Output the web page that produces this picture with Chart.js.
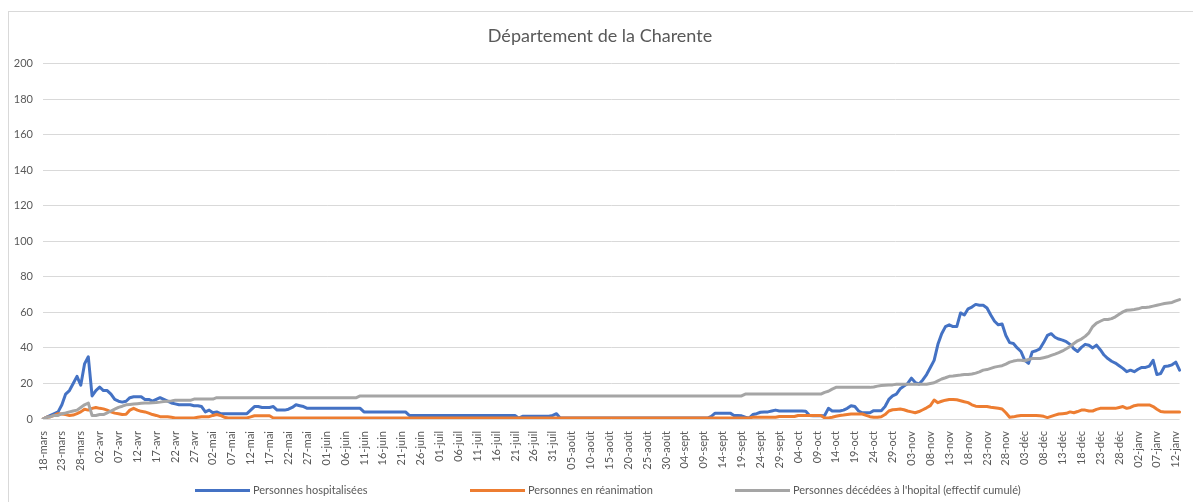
<!DOCTYPE html>
<html>
<head>
<meta charset="utf-8">
<script src="https://cdn.jsdelivr.net/npm/chart.js@4.4.0/dist/chart.umd.min.js"></script>
<style>
  body { margin: 0; width: 1193px; height: 502px; overflow: hidden; background: #fff; font-family: Lato, sans-serif; }
  #frame { position: absolute; left: 8px; top: 11px; width: 1300px; height: 600px; border: 1px solid #d9d9d9; }
  #chart { position: absolute; left: 0; top: 0; }
  .leg { position: absolute; top: 483px; font-size: 11px; color: #595959; white-space: nowrap; line-height: 14px; }
  .leg i { display: inline-block; width: 55px; height: 3px; vertical-align: middle; margin-right: 3px; margin-top: -2px; }
</style>
</head>
<body>
<div id="frame"></div>
<canvas id="chart" width="1193" height="502"></canvas>
<div class="leg" style="left:195px"><i style="background:#4472C4"></i>Personnes hospitalisées</div>
<div class="leg" style="left:470px"><i style="background:#ED7D31"></i>Personnes en réanimation</div>
<div class="leg" style="left:735px"><i style="background:#A5A5A5"></i>Personnes décédées à l'hopital (effectif cumulé)</div>
<script>
// one value per day, from 18-mars (2020) to 13-janv (2021)
const startDate = Date.UTC(2020, 2, 18);
const nbDays = 302;
const moisFr = ["janv", "févr", "mars", "avr", "mai", "juin", "juil", "août", "sept", "oct", "nov", "déc"];

const hospitalisees = [
  // mars
  0, 1, 2, 3, 4, 8, 14, 16, 20, 24, 19, 31, 35, 13,
  // avr
  16, 18, 16, 16, 14, 11, 10, 9.5, 10, 12, 12.5, 12.5, 12.5, 11, 11,
  10, 11, 12, 11, 10, 9, 8.5, 8, 8, 8, 8, 7.5, 7.5, 7, 4,
  // mai
  5, 3.5, 4, 3, 3, 3, 3, 3, 3, 3, 3, 5, 7, 7, 6.5, 6.5,
  6.5, 7, 5, 5, 5, 5.5, 6.5, 8, 7.5, 7, 6, 6, 6, 6, 6,
  // juin
  6, 6, 6, 6, 6, 6, 6, 6, 6, 6, 4, 4, 4, 4, 4,
  4, 4, 4, 4, 4, 4, 4, 2, 2, 2, 2, 2, 2, 2, 2,
  // juil
  2, 2, 2, 2, 2, 2, 2, 2, 2, 2, 2, 2, 2, 2, 2, 2,
  2, 2, 2, 2, 2, 0.5, 1.5, 1.5, 1.5, 1.5, 1.5, 1.5, 1.5, 1.5, 2,
  // août
  3, 0.5, 0.5, 0.5, 0.5, 0.5, 0.5, 0.5, 0.5, 0.5, 0.5, 0.5, 0.5, 0.5, 0.5, 0.5,
  0.5, 0.5, 0.5, 0.5, 0.5, 0.5, 0.5, 0.5, 0.5, 0.5, 0.5, 0.5, 0.5, 0.5, 0.5,
  // sept
  0.5, 0.5, 0.5, 0.5, 0.5, 0.5, 0.5, 0.5, 0.5, 0.5, 1.5, 3.3, 3.3, 3.3, 3.3,
  3.3, 2, 2, 1.8, 1, 0.5, 2.5, 3, 3.8, 4, 4, 4.5, 5, 4.5, 4.5,
  // oct
  4.5, 4.5, 4.5, 4.5, 4.5, 4.4, 2, 1.8, 1.8, 1.8, 2, 6, 4.5, 4.5, 4.5, 5,
  6, 7.5, 7, 4.5, 3.5, 3.5, 3.5, 4.7, 4.7, 4.7, 7, 11, 13, 14, 17,
  // nov
  18.5, 20, 23, 20.5, 19.7, 22, 25, 29, 33, 42, 48, 52, 53, 52, 52,
  59.7, 58.5, 62, 63, 64.5, 64, 64, 62.5, 58.5, 55, 53, 53.5, 47, 43, 42.5,
  // déc
  40, 38, 33, 31.3, 37.8, 38.4, 39.5, 43, 47, 48, 46, 45, 44.4, 43.5, 42, 39.5,
  38, 40.3, 42, 41.5, 40, 41.6, 39, 36, 34, 32.5, 31.5, 30, 28.5, 26.6, 27.5,
  // janv
  26.6, 28, 29, 29, 29.8, 33, 25, 25.6, 29.5, 29.8, 30.5, 32, 27.5
];

const reanimation = [
  // mars
  0, 1, 1.3, 2, 3, 2.8, 2.5, 2, 2.2, 3, 4, 5.5, 5, 6,
  // avr
  6.5, 6, 5.7, 5, 4, 3.3, 3, 2.5, 2.7, 5, 6, 5, 4.3, 4, 3.3,
  2.5, 2, 1.3, 1.3, 1.3, 1, 0.6, 0.6, 0.6, 0.6, 0.6, 0.6, 1, 1.3, 1.3,
  // mai
  1.3, 2, 2.5, 2, 1, 0.6, 0.6, 0.6, 0.6, 0.6, 0.6, 1.2, 1.8, 1.8, 1.8, 1.8,
  1.8, 0.6, 0.5, 0.5, 0.5, 0.5, 0.5, 0.5, 0.5, 0.5, 0.5, 0.5, 0.5, 0.5, 0.5,
  // juin
  0.5, 0.5, 0.5, 0.5, 0.5, 0.5, 0.5, 0.5, 0.5, 0.5, 0.5, 0.5, 0.5, 0.5, 0.5,
  0.5, 0.5, 0.5, 0.5, 0.5, 0.5, 0.5, 0.5, 0.5, 0.5, 0.5, 0.5, 0.5, 0.5, 0.5,
  // juil
  0.5, 0.5, 0.5, 0.5, 0.5, 0.5, 0.5, 0.5, 0.5, 0.5, 0.5, 0.5, 0.5, 0.5, 0.5, 0.5,
  0.5, 0.5, 0.5, 0.5, 0.5, 0.5, 0.5, 0.5, 0.5, 0.5, 0.5, 0.5, 0.5, 0.5, 0.5,
  // août
  0.5, 0.5, 0.5, 0.5, 0.5, 0.5, 0.5, 0.5, 0.5, 0.5, 0.5, 0.5, 0.5, 0.5, 0.5, 0.5,
  0.5, 0.5, 0.5, 0.5, 0.5, 0.5, 0.5, 0.5, 0.5, 0.5, 0.5, 0.5, 0.5, 0.5, 0.5,
  // sept
  0.5, 0.5, 0.5, 0.5, 0.5, 0.5, 0.5, 0.5, 0.5, 0.5, 0.5, 0.5, 0.5, 0.5, 0.5,
  0.5, 0.5, 0.5, 0.5, 0.5, 0.6, 1, 1, 1, 1, 1, 1, 1, 1.4, 1.4,
  // oct
  1.4, 1.4, 1.4, 2, 2, 2, 2, 2, 2, 2, 0.6, 0.6, 1, 1.5, 2, 2.2,
  2.5, 2.8, 2.8, 2.8, 2.8, 2, 1.3, 1, 1, 1.3, 2.5, 4.5, 5.2, 5.4, 5.6,
  // nov
  5.2, 4.5, 4, 3.5, 4.2, 5.2, 6.3, 7.5, 10.7, 9.2, 10, 10.6, 11, 11, 10.8,
  10.3, 9.7, 9.2, 8, 7.2, 7, 7, 7, 6.6, 6.3, 6, 5.6, 3.5, 1, 1.2,
  // déc
  1.7, 2, 2, 2, 2, 2, 1.8, 1.5, 0.8, 1.5, 2.2, 2.8, 3, 3.2, 4, 3.5,
  4.2, 5, 5, 4.5, 4.5, 5.4, 6, 6, 6, 6, 6, 6.5, 7, 6, 6.5,
  // janv
  7.5, 7.9, 7.9, 7.9, 7.9, 7, 5.5, 4.2, 4, 4, 4, 4, 4
];

const decedes = [
  // mars
  0, 1, 1.3, 2, 2, 3, 3.4, 4, 4.5, 5, 6.5, 8, 9, 2,
  // avr
  2, 2.5, 2.5, 3.5, 4.5, 5.5, 6.5, 7.2, 8, 8.2, 8.4, 8.6, 8.8, 9, 9,
  9.2, 9.3, 9.5, 9.8, 10, 10.2, 10.5, 10.5, 10.5, 10.5, 10.5, 11.2, 11.2, 11.2, 11.2,
  // mai
  11.2, 11.2, 12, 12, 12, 12, 12, 12, 12, 12, 12, 12, 12, 12, 12, 12,
  12, 12, 12, 12, 12, 12, 12, 12, 12, 12, 12, 12, 12, 12, 12,
  // juin
  12, 12, 12, 12, 12, 12, 12, 12, 12, 13, 13, 13, 13, 13, 13,
  13, 13, 13, 13, 13, 13, 13, 13, 13, 13, 13, 13, 13, 13, 13,
  // juil
  13, 13, 13, 13, 13, 13, 13, 13, 13, 13, 13, 13, 13, 13, 13, 13,
  13, 13, 13, 13, 13, 13, 13, 13, 13, 13, 13, 13, 13, 13, 13,
  // août
  13, 13, 13, 13, 13, 13, 13, 13, 13, 13, 13, 13, 13, 13, 13, 13,
  13, 13, 13, 13, 13, 13, 13, 13, 13, 13, 13, 13, 13, 13, 13,
  // sept
  13, 13, 13, 13, 13, 13, 13, 13, 13, 13, 13, 13, 13, 13, 13,
  13, 13, 13, 13, 14, 14, 14, 14, 14, 14, 14, 14, 14, 14, 14,
  // oct
  14, 14, 14, 14, 14, 14, 14, 14, 14, 14, 15, 15.6, 16.8, 17.8, 17.8, 17.8,
  17.8, 17.8, 17.8, 17.8, 17.8, 17.8, 17.8, 18, 18.5, 18.8, 19, 19.2, 19.2, 19.5, 19.5,
  // nov
  19.6, 19.6, 19.6, 19.6, 19.6, 19.6, 19.6, 20, 20.4, 21.5, 22.5, 23.2, 24, 24.2, 24.5,
  24.7, 25, 25.1, 25.3, 25.8, 26.5, 27.5, 27.8, 28.5, 29.2, 29.6, 30, 30.9, 32, 32.6,
  // déc
  33, 33, 32.8, 33.5, 34, 34, 34, 34.5, 35, 35.8, 36.5, 37.3, 38.3, 39.5, 40.8, 42.5,
  44, 45, 46.5, 48.5, 52, 54, 55, 56, 56, 56.5, 57.5, 59, 60.3, 61.2, 61.4,
  // janv
  61.6, 62, 62.7, 62.8, 63, 63.5, 64, 64.5, 65, 65.3, 65.6, 66.5, 67.2
];

// category labels: "18-mars", "19-mars", ...
const jours = [];
for (let i = 0; i < nbDays; i++) {
  const d = new Date(startDate + i * 86400000);
  const dd = String(d.getUTCDate()).padStart(2, "0");
  jours.push(dd + "-" + moisFr[d.getUTCMonth()]);
}

const grisTexte = "#595959";

new Chart(document.getElementById("chart"), {
  type: "line",
  data: {
    labels: jours,
    datasets: [
      { label: "Personnes hospitalisées", data: hospitalisees, borderColor: "#4472C4", order: 3 },
      { label: "Personnes en réanimation", data: reanimation, borderColor: "#ED7D31", order: 2 },
      { label: "Personnes décédées à l'hopital (effectif cumulé)", data: decedes, borderColor: "#A5A5A5", order: 1 }
    ]
  },
  options: {
    responsive: false,
    animation: false,
    events: [],
    elements: {
      point: { radius: 0 },
      line: { borderWidth: 3, tension: 0, borderJoinStyle: "round", borderCapStyle: "round" }
    },
    layout: { padding: { left: 10, right: 3, top: 0, bottom: 20 } },
    plugins: {
      legend: { display: false },
      tooltip: { enabled: false },
      title: {
        display: true,
        text: "Département de la Charente",
        color: grisTexte,
        font: { family: "Lato", size: 18, weight: "normal" },
        padding: { top: 25, bottom: 17 }
      }
    },
    scales: {
      x: {
        grid: { display: false },
        border: { display: false },
        afterFit: scale => { scale.height = 63; },
        ticks: {
          autoSkip: false,
          minRotation: 90,
          maxRotation: 90,
          padding: 4,
          color: grisTexte,
          font: { family: "Lato", size: 11 },
          callback: (val, i) => (i % 5 === 0 ? jours[i] : null)
        }
      },
      y: {
        min: 0,
        max: 200,
        border: { display: false },
        grid: { color: "#d9d9d9", drawTicks: false },
        afterFit: scale => { scale.width = 33; },
        ticks: {
          stepSize: 20,
          padding: 10,
          color: grisTexte,
          font: { family: "Lato", size: 11 }
        }
      }
    }
  }
});
</script>
</body>
</html>
